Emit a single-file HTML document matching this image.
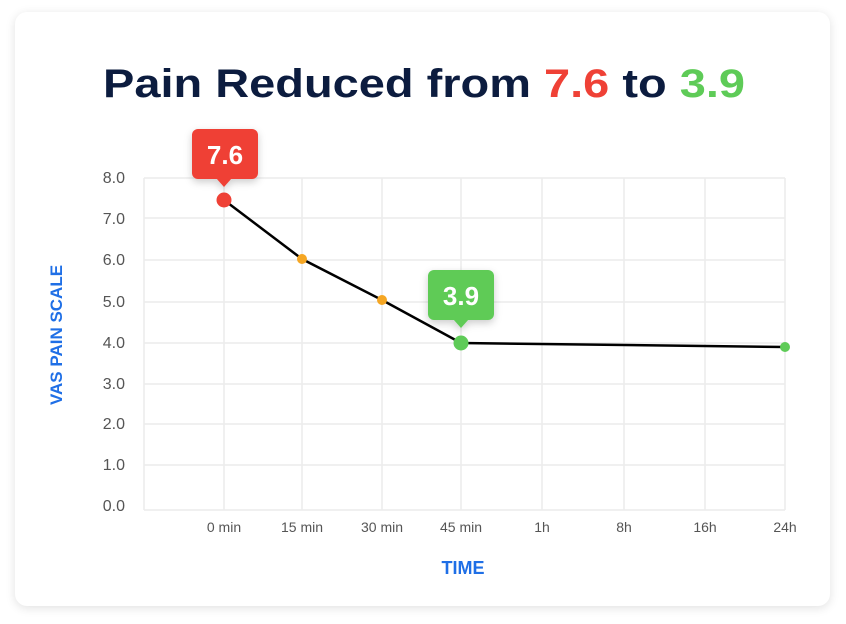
<!DOCTYPE html>
<html><head><style>
body{margin:0;background:#fff;width:846px;height:624px;overflow:hidden;font-family:"Liberation Sans",sans-serif}
.card{position:absolute;left:15px;top:12px;width:815px;height:594px;background:#fff;border-radius:12px;box-shadow:0 2px 10px rgba(0,0,0,.12)}
</style></head><body>
<div class="card"></div>
<svg width="846" height="624" style="position:absolute;left:0;top:0" font-family="Liberation Sans, sans-serif">
<defs><filter id="sh" x="-50%" y="-50%" width="200%" height="200%"><feDropShadow dx="0" dy="3" stdDeviation="4" flood-opacity="0.2"/></filter></defs>
<text x="103" y="97" textLength="642" lengthAdjust="spacingAndGlyphs" font-size="40" font-weight="bold" fill="#0c1c3f">Pain Reduced from <tspan fill="#ef4136">7.6</tspan> to <tspan fill="#5ecb57">3.9</tspan></text>
<g stroke="#ececec" stroke-width="1.5" fill="none">
<line x1="144" y1="178" x2="785" y2="178"/><line x1="144" y1="218" x2="785" y2="218"/><line x1="144" y1="260" x2="785" y2="260"/><line x1="144" y1="302" x2="785" y2="302"/><line x1="144" y1="343" x2="785" y2="343"/><line x1="144" y1="384" x2="785" y2="384"/><line x1="144" y1="424" x2="785" y2="424"/><line x1="144" y1="465" x2="785" y2="465"/><line x1="144" y1="510" x2="785" y2="510"/>
<line x1="144" y1="178" x2="144" y2="510"/><line x1="224" y1="178" x2="224" y2="510"/><line x1="302" y1="178" x2="302" y2="510"/><line x1="382" y1="178" x2="382" y2="510"/><line x1="461" y1="178" x2="461" y2="510"/><line x1="542" y1="178" x2="542" y2="510"/><line x1="624" y1="178" x2="624" y2="510"/><line x1="705" y1="178" x2="705" y2="510"/><line x1="785" y1="178" x2="785" y2="510"/>
</g>
<g font-size="16" fill="#555" text-anchor="end">
<text x="125" y="183">8.0</text><text x="125" y="224">7.0</text><text x="125" y="265">6.0</text><text x="125" y="307">5.0</text><text x="125" y="348">4.0</text><text x="125" y="389">3.0</text><text x="125" y="429">2.0</text><text x="125" y="470">1.0</text><text x="125" y="511">0.0</text>
</g>
<g font-size="14" fill="#555" text-anchor="middle">
<text x="224" y="532">0 min</text><text x="302" y="532">15 min</text><text x="382" y="532">30 min</text><text x="461" y="532">45 min</text><text x="542" y="532">1h</text><text x="624" y="532">8h</text><text x="705" y="532">16h</text><text x="785" y="532">24h</text>
</g>
<text x="463" y="574" text-anchor="middle" font-size="18" font-weight="bold" fill="#1f6fe6">TIME</text>
<text transform="translate(62,335) rotate(-90)" text-anchor="middle" font-size="17" font-weight="bold" fill="#1f6fe6">VAS PAIN SCALE</text>
<polyline points="224,200 302,259 382,300 461,343 785,347" fill="none" stroke="#000" stroke-width="2.5"/>
<circle cx="224" cy="200" r="7.5" fill="#ef4136"/>
<circle cx="302" cy="259" r="5" fill="#f5a623"/>
<circle cx="382" cy="300" r="5" fill="#f5a623"/>
<circle cx="461" cy="343" r="7.5" fill="#5ecb57"/>
<circle cx="785" cy="347" r="5" fill="#5ecb57"/>
<g filter="url(#sh)">
<rect x="192" y="129" width="66" height="50" rx="6" fill="#ef4136"/><polygon points="216,178 232,178 224,187" fill="#ef4136"/>
<rect x="428" y="270" width="66" height="50" rx="6" fill="#5ecb57"/><polygon points="453,319 469,319 461,328" fill="#5ecb57"/>
</g>
<text x="225" y="164" text-anchor="middle" font-size="26" font-weight="bold" fill="#fff">7.6</text>
<text x="461" y="305" text-anchor="middle" font-size="26" font-weight="bold" fill="#fff">3.9</text>
</svg>
</body></html>
